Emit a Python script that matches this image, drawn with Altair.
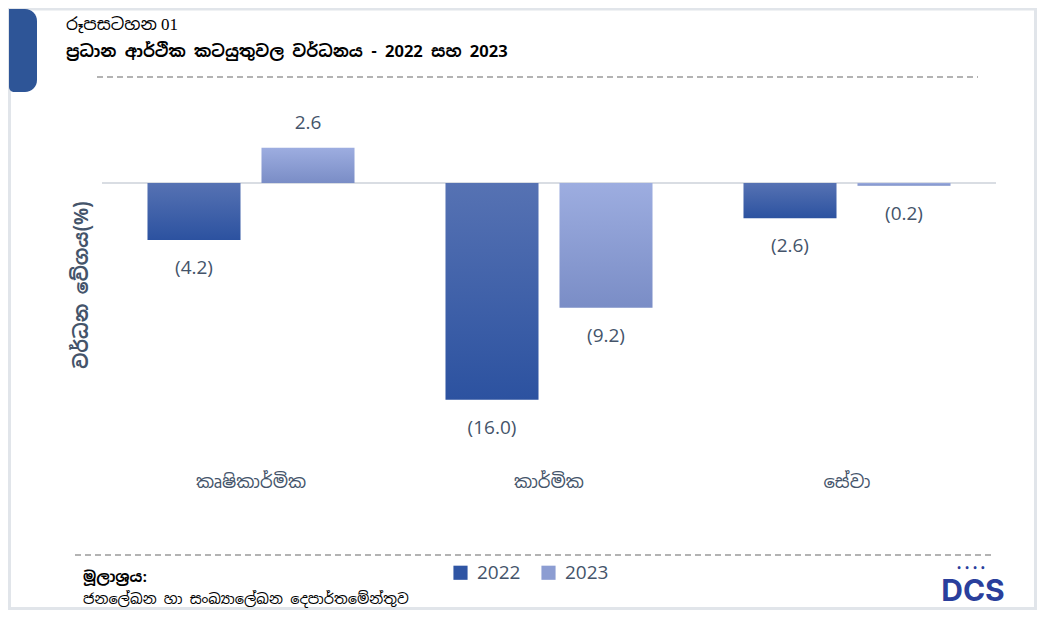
import altair as alt
import pandas as pd

categories = ["කෘෂිකාර්මික", "කාර්මික", "සේවා"]
years = ["2022", "2023"]
v2022 = [-4.2, -16.0, -2.6]
v2023 = [2.6, -9.2, -0.2]

rows = []
for c, a, b in zip(categories, v2022, v2023):
    rows.append({"cat": c, "year": "2022", "value": a})
    rows.append({"cat": c, "year": "2023", "value": b})
df = pd.DataFrame(rows)
df["label"] = df["value"].apply(lambda v: f"({abs(v):.1f})" if v < 0 else f"{v:.1f}")

SIN = "Noto Sans Sinhala, Iskoola Pota, Nirmala UI, Noto Sans, sans-serif"
TXT = "#44546A"
W, H = 894, 360

base = alt.Chart(df)
xenc = alt.X("cat:N", sort=categories,
             scale=alt.Scale(paddingInner=0, paddingOuter=0),
             axis=alt.Axis(title=None, domain=False, ticks=False, labelAngle=0,
                           labelFont=SIN, labelFontSize=18, labelColor=TXT,
                           labelPadding=13))
xoff = alt.XOffset("year:N", sort=years,
                   scale=alt.Scale(domain=years, paddingInner=0.184, paddingOuter=0.399))
yenc = alt.Y("value:Q", scale=alt.Scale(domain=[-20.44, 6.125], nice=False, zero=False),
             axis=None)

def grad(c1, c2):
    return alt.Gradient(gradient="linear",
                        stops=[alt.GradientStop(color=c1, offset=0),
                               alt.GradientStop(color=c2, offset=1)],
                        x1=0, x2=0, y1=0, y2=1)

zero = alt.Chart(pd.DataFrame({"z": [0]})).mark_rule(color="#d9dde3", size=2).encode(
    y=alt.Y("z:Q", scale=alt.Scale(domain=[-20.44, 6.125], nice=False, zero=False), axis=None),
    x=alt.value(0), x2=alt.value(W))

bars22 = base.transform_filter(alt.datum.year == "2022").mark_bar(
    color=grad("#5672b3", "#2c52a0")).encode(x=xenc, xOffset=xoff, y=yenc, y2=alt.datum(0))
bars23 = base.transform_filter(alt.datum.year == "2023").mark_bar(
    color=grad("#9dade0", "#7a8dc6")).encode(x=xenc, xOffset=xoff, y=yenc, y2=alt.datum(0))

lab_pos = base.transform_filter(alt.datum.value >= 0).mark_text(
    dy=-25, fontSize=19, color=TXT, font="Open Sans, Noto Sans, sans-serif").encode(
    x=xenc, xOffset=xoff, y=yenc, text="label:N")
lab_neg = base.transform_filter(alt.datum.value < 0).mark_text(
    dy=28, fontSize=19, color=TXT, font="Open Sans, Noto Sans, sans-serif").encode(
    x=xenc, xOffset=xoff, y=yenc, text="label:N")

legend_layer = base.mark_square(opacity=0).encode(
    x=xenc, xOffset=xoff, y=yenc,
    color=alt.Color("year:N", sort=years,
                    scale=alt.Scale(domain=years, range=["#2f55a4", "#8c9dd2"]),
                    legend=alt.Legend(title=None, orient="none", direction="horizontal",
                                      legendX=349, legendY=463, symbolType="square",
                                      symbolSize=200, symbolOpacity=1, symbolStrokeWidth=0,
                                      labelFontSize=19, labelColor=TXT, labelFont="Open Sans, Noto Sans, sans-serif",
                                      columnPadding=18, labelOffset=7, padding=0)))

def txt(text, x, y, size, weight="normal", color=TXT, font=SIN, align="left", angle=0):
    return alt.Chart(pd.DataFrame({"t": [text]})).mark_text(
        align=align, baseline="middle", fontSize=size, fontWeight=weight, color=color,
        font=font, angle=angle).encode(x=alt.value(x), y=alt.value(y), text="t:N")

border = alt.Chart(pd.DataFrame({"a": [0]})).mark_rect(
    fill=None, stroke="#e1e5ea", strokeWidth=3).encode(
    x=alt.value(-92.5), x2=alt.value(W + 39.5), y=alt.value(-91), y2=alt.value(H + 148.5))
tab = alt.Chart(pd.DataFrame({"a": [0]})).mark_rect(
    color="#2e5597", cornerRadiusTopRight=12, cornerRadiusBottomRight=12,
    cornerRadiusBottomLeft=5).encode(
    x=alt.value(-93), x2=alt.value(-65), y=alt.value(-91), y2=alt.value(-8))
dash1 = alt.Chart(pd.DataFrame({"a": [0]})).mark_rule(
    color="#9a9a9a", strokeDash=[6, 4], strokeWidth=1.3).encode(
    x=alt.value(-5), x2=alt.value(876), y=alt.value(-23))
dash2 = alt.Chart(pd.DataFrame({"a": [0]})).mark_rule(
    color="#9a9a9a", strokeDash=[6, 4], strokeWidth=1.3).encode(
    x=alt.value(-27), x2=alt.value(893), y=alt.value(455))

title1 = txt("රූපසටහන 01", -36, -75, 17, font="Liberation Serif, Noto Sans Sinhala, serif", color="#000000")
title2 = txt("ප්‍රධාන  ආර්ථික කටයුතුවල වර්ධනය - 2022 සහ 2023", -36, -48, 16.5, weight="bold", color="#000000")
ytitle = txt("වර්ධන වේගය(%)", -20, 185, 19, weight="bold", align="center", angle=270)
src1 = txt("මූලාශ්‍රය:", -19, 477, 15, weight="bold", color="#000000")
src2 = txt("ජනලේඛන හා සංඛ්‍යාලේඛන දෙපාර්තමේන්තුව", -19, 500, 14.5, color="#000000")
logo = txt("DCS", 871, 492, 30, weight="bold", color="#2a3f9c", font="Inter, Roboto, DejaVu Sans, sans-serif", align="center")
dots = txt("• • •   •", 869, 469, 8, weight="bold", color="#2a3f9c", font="DejaVu Sans, sans-serif", align="center")

chart = alt.layer(
    border, tab, dash1, dash2, zero, bars22, bars23, lab_pos, lab_neg, legend_layer,
    title1, title2, ytitle, src1, src2, logo, dots
).properties(
    width=W, height=H,
    autosize=alt.AutoSizeParams(type="none"),
    padding={"left": 94, "top": 92, "right": 41, "bottom": 150},
).configure_view(stroke=None).configure_scale(bandPaddingInner=0)

chart.save("out.html", embed_options={"renderer": "svg", "actions": False})
